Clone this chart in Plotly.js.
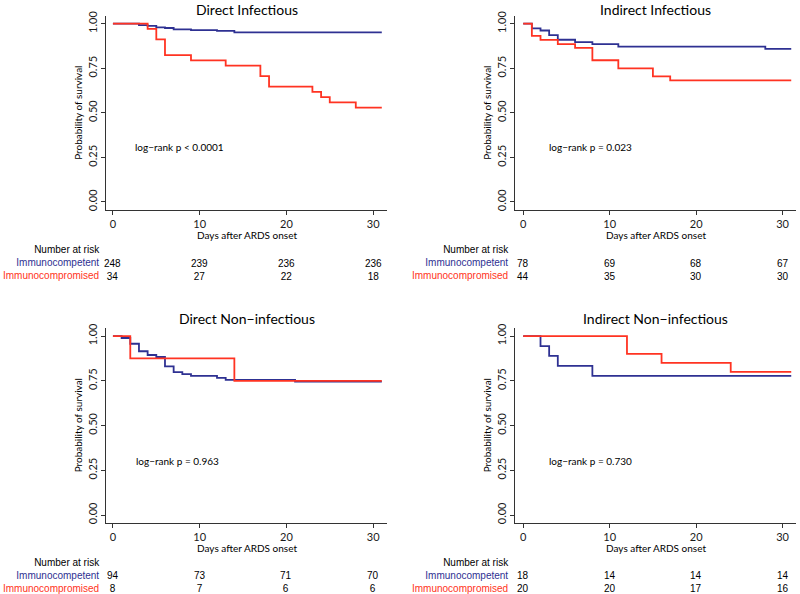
<!DOCTYPE html>
<html>
<head>
<meta charset="utf-8">
<script src="https://cdn.plot.ly/plotly-3.0.1.min.js"></script>
<style>html,body{margin:0;padding:0;background:#fff;}#chart{width:800px;height:594px;}</style>
</head>
<body>
<div id="chart"></div>
<script>
// ---- Data ----
const panelTitles = ["Direct Infectious", "Indirect Infectious", "Direct Non\u2212infectious", "Indirect Non\u2212infectious"];
const pValues = ["log\u2212rank p < 0.0001", "log\u2212rank p = 0.023", "log\u2212rank p = 0.963", "log\u2212rank p = 0.730"];
const groupNames = ["Immunocompetent", "Immunocompromised"];
const riskTimes = [0, 10, 20, 30];

// Direct Infectious
const diCompT = [0, 3, 4, 5, 6, 7, 9, 12, 14, 31];
const diCompS = [1, 0.992, 0.988, 0.980, 0.976, 0.968, 0.964, 0.960, 0.952, 0.952];
const diImmT = [0, 4, 5, 6, 9, 13, 17, 18, 23, 24, 25, 28, 31];
const diImmS = [1, 0.971, 0.912, 0.824, 0.794, 0.765, 0.706, 0.647, 0.618, 0.588, 0.559, 0.529, 0.529];
const diRiskComp = [248, 239, 236, 236];
const diRiskImm = [34, 27, 22, 18];

// Indirect Infectious
const iiCompT = [0, 1, 2, 3, 4, 6, 8, 11, 28, 31];
const iiCompS = [1, 0.974, 0.962, 0.936, 0.910, 0.897, 0.885, 0.872, 0.859, 0.859];
const iiImmT = [0, 1, 2, 4, 6, 8, 11, 15, 17, 31];
const iiImmS = [1, 0.932, 0.909, 0.886, 0.864, 0.795, 0.750, 0.705, 0.682, 0.682];
const iiRiskComp = [78, 69, 68, 67];
const iiRiskImm = [44, 35, 30, 30];

// Direct Non-infectious
const dnCompT = [0, 1, 2, 3, 4, 5, 6, 7, 8, 9, 12, 13, 21, 31];
const dnCompS = [1, 0.989, 0.957, 0.915, 0.894, 0.883, 0.830, 0.798, 0.787, 0.777, 0.766, 0.755, 0.745, 0.745];
const dnImmT = [0, 2, 14, 31];
const dnImmS = [1, 0.875, 0.75, 0.75];
const dnRiskComp = [94, 73, 71, 70];
const dnRiskImm = [8, 7, 6, 6];

// Indirect Non-infectious
const inCompT = [0, 2, 3, 4, 8, 31];
const inCompS = [1, 0.944, 0.889, 0.833, 0.778, 0.778];
const inImmT = [0, 12, 16, 24, 31];
const inImmS = [1, 0.9, 0.85, 0.8, 0.8];
const inRiskComp = [18, 14, 14, 14];
const inRiskImm = [20, 20, 17, 16];

const yTickVals = [0, 0.25, 0.5, 0.75, 1];
const yTickText = ["0.00", "0.25", "0.50", "0.75", "1.00"];
const xTickVals = [0, 10, 20, 30];

// ---- Styles ----
const BLUE = "#2e3192";
const RED = "#ff3322";
const FONT = "Lato, 'Open Sans', sans-serif";
const TFONT = "'Liberation Sans', Arial, sans-serif";
const W = 800, H = 594;
const py = p => 1 - p / H;
const px = p => p / W;

const panels = [
  {compT: diCompT, compS: diCompS, immT: diImmT, immS: diImmS, rc: diRiskComp, ri: diRiskImm,
   xd: [106, 387], yd: [15.7, 210], xr: [-0.8, 31.6], yr: [-0.045, 1.045], top: 0, pv: [2.3, 0.31]},
  {compT: iiCompT, compS: iiCompS, immT: iiImmT, immS: iiImmS, rc: iiRiskComp, ri: iiRiskImm,
   xd: [515, 796], yd: [15.7, 210], xr: [-0.95, 31.55], yr: [-0.045, 1.045], top: 0, pv: [2.7, 0.31]},
  {compT: dnCompT, compS: dnCompS, immT: dnImmT, immS: dnImmS, rc: dnRiskComp, ri: dnRiskImm,
   xd: [106, 387], yd: [328, 522.7], xr: [-0.8, 31.6], yr: [-0.043, 1.045], top: 312, pv: [2.45, 0.30]},
  {compT: inCompT, compS: inCompS, immT: inImmT, immS: inImmS, rc: inRiskComp, ri: inRiskImm,
   xd: [515, 796], yd: [328, 522.7], xr: [-0.95, 31.55], yr: [-0.043, 1.045], top: 312, pv: [2.8, 0.30]}
];

const traces = [];
const layout = {
  width: W, height: H,
  margin: {l: 0, r: 0, t: 0, b: 0},
  paper_bgcolor: "#fff", plot_bgcolor: "#fff",
  showlegend: false,
  font: {family: FONT, size: 11, color: "#1a1a1a"},
  annotations: []
};

panels.forEach((p, i) => {
  const n = i + 1;
  const xa = n === 1 ? "x" : "x" + n;
  const ya = n === 1 ? "y" : "y" + n;
  traces.push({x: p.compT, y: p.compS, xaxis: xa, yaxis: ya, type: "scatter", mode: "lines",
    line: {shape: "hv", color: BLUE, width: 1.8}, name: groupNames[0], hoverinfo: "skip"});
  traces.push({x: p.immT, y: p.immS, xaxis: xa, yaxis: ya, type: "scatter", mode: "lines",
    line: {shape: "hv", color: RED, width: 1.8}, name: groupNames[1], hoverinfo: "skip"});

  const axCommon = {showgrid: false, zeroline: false, showline: true, linecolor: "#333", linewidth: 1,
    ticks: "outside", ticklen: 4, tickwidth: 1, tickcolor: "#333",
    tickfont: {family: FONT, size: 11, color: "#1a1a1a"}, fixedrange: true};
  layout["xaxis" + (n === 1 ? "" : n)] = Object.assign({}, axCommon, {
    domain: [px(p.xd[0]), px(p.xd[1])], range: p.xr, anchor: ya,
    tickvals: xTickVals, ticktext: xTickVals.map(String)});
  layout["yaxis" + (n === 1 ? "" : n)] = Object.assign({}, axCommon, {
    domain: [py(p.yd[1]), py(p.yd[0])], range: p.yr, anchor: xa,
    tickvals: yTickVals, ticktext: yTickText, tickangle: -90});

  const cx = (p.xd[0] + p.xd[1]) / 2;
  const A = layout.annotations;
  // panel title
  A.push({text: panelTitles[i], xref: "paper", yref: "paper", x: px(cx), y: py(p.top === 0 ? 0 : p.top - 3),
    xanchor: "center", yanchor: "top", borderpad: 0, showarrow: false,
    font: {family: FONT, size: 14, color: "#000"}});
  // y title
  A.push({text: "Probability of survival", xref: "paper", yref: "paper", x: px(p.xd[0] - 28),
    y: py((p.yd[0] + p.yd[1]) / 2), textangle: -90, xanchor: "center", yanchor: "middle",
    showarrow: false, font: {family: FONT, size: 10, color: "#000"}});
  // x title
  A.push({text: "Days after ARDS onset", xref: "paper", yref: "paper", x: px(cx), y: py(p.top + 235.5),
    xanchor: "center", yanchor: "middle", borderpad: 0, showarrow: false,
    font: {family: FONT, size: 10, color: "#000"}});
  // p value
  A.push({text: pValues[i], xref: xa, yref: ya, x: p.pv[0], y: p.pv[1], xanchor: "left", yanchor: "middle",
    showarrow: false, font: {family: FONT, size: 10, color: "#000"}});
  // risk table labels (one block, right aligned)
  A.push({text: "Number at risk<br><span style='color:" + BLUE + "'>" + groupNames[0] +
      "</span><br><span style='color:" + RED + "'>" + groupNames[1] + "</span>",
    xref: "paper", yref: "paper", x: px(p.xd[0] - 5), y: py(p.top + 263),
    xanchor: "right", yanchor: "middle", align: "right", borderpad: 0, showarrow: false,
    font: {family: TFONT, size: 10, color: "#000"}});
  riskTimes.forEach((t, k) => {
    A.push({text: String(p.rc[k]) + "<br>" + String(p.ri[k]), xref: xa, yref: "paper", x: t,
      y: py(p.top + 269.5), xanchor: "center", yanchor: "middle", align: "center", borderpad: 0,
      showarrow: false, font: {family: TFONT, size: 10, color: "#000"}});
  });
});

Plotly.newPlot("chart", traces, layout, {displayModeBar: false, staticPlot: true});
</script>
</body>
</html>
